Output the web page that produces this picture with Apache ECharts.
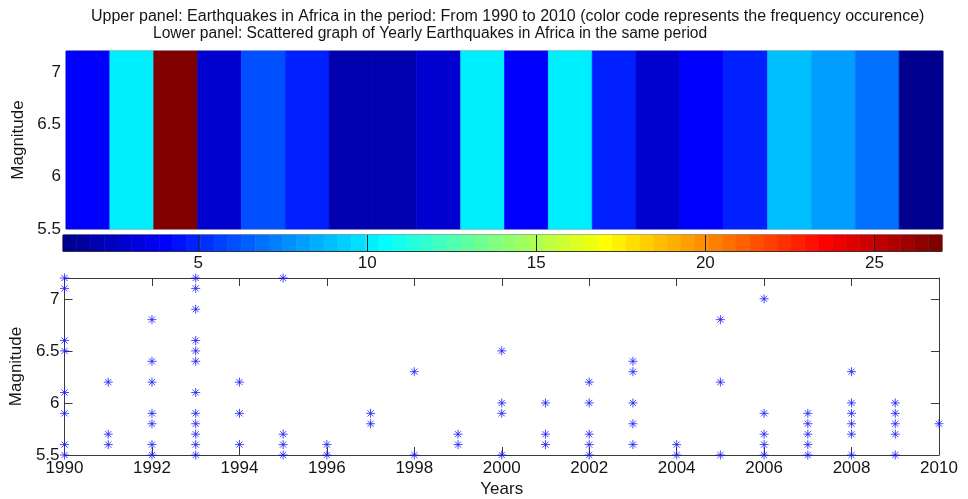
<!DOCTYPE html>
<html>
<head>
<meta charset="utf-8">
<script src="https://cdn.jsdelivr.net/npm/echarts@6/dist/echarts.min.js"></script>
<style>
  html, body { margin: 0; padding: 0; background: #fff; }
  #chart { width: 968px; height: 499px; }
</style>
</head>
<body>
<div id="chart"></div>
<script>
// Upper panel: one colour-coded cell per year (frequency of occurrence)
const heatYears = [1990, 1991, 1992, 1993, 1994, 1995, 1996, 1997, 1998, 1999,
                   2000, 2001, 2002, 2003, 2004, 2005, 2006, 2007, 2008, 2009];
const heatFrequency = [4, 10, 27, 3, 6, 5, 2, 2, 3, 10, 4, 10, 5, 3, 4, 5, 9, 8, 7, 1];

// Lower panel: magnitudes of the recorded earthquakes, grouped by year
const scatterYears = [1990, 1991, 1992, 1993, 1994, 1995, 1996, 1997, 1998, 1999,
                      2000, 2001, 2002, 2003, 2004, 2005, 2006, 2007, 2008, 2009, 2010];
const magnitudesByYear = [
  [7.2, 7.1, 6.6, 6.5, 6.1, 5.9, 5.6, 5.5],
  [6.2, 5.7, 5.6],
  [6.8, 6.4, 6.2, 5.9, 5.8, 5.6, 5.5],
  [7.2, 7.1, 6.9, 6.6, 6.5, 6.4, 6.1, 5.9, 5.8, 5.7, 5.6, 5.5],
  [6.2, 5.9, 5.6],
  [7.2, 5.7, 5.6, 5.5],
  [5.6, 5.5],
  [5.9, 5.8],
  [6.3, 5.5],
  [5.7, 5.6],
  [6.5, 6.0, 5.9, 5.5],
  [6.0, 5.7, 5.6],
  [6.2, 6.0, 5.7, 5.6, 5.5],
  [6.4, 6.3, 6.0, 5.8, 5.6],
  [5.6, 5.5],
  [6.8, 6.2, 5.5],
  [7.0, 5.9, 5.7, 5.6, 5.5],
  [5.9, 5.8, 5.7, 5.6, 5.5],
  [6.3, 6.0, 5.9, 5.8, 5.7, 5.5],
  [6.0, 5.9, 5.8, 5.7, 5.5],
  [5.8]
];

// Axis ticks
const magnitudeTicks = [5.5, 6, 6.5, 7];
const colorbarTicks = [5, 10, 15, 20, 25];

const MAG_MIN = 5.5, MAG_MAX = 7.2;
const FREQ_MIN = 1, FREQ_MAX = 27;
const LEVELS = 64;

// 64-level "jet" colormap
function jet(k) { // k = 1..64
  const r = k <= 24 ? 0 : k <= 40 ? (k - 24) / 16 : k <= 56 ? 1 : 1 - (k - 56) / 16;
  const g = k <= 8 ? 0 : k <= 24 ? (k - 8) / 16 : k <= 40 ? 1 : k <= 56 ? 1 - (k - 40) / 16 : 0;
  const b = k <= 8 ? (k + 8) / 16 : k <= 24 ? 1 : k <= 40 ? 1 - (k - 24) / 16 : 0;
  const c = v => Math.round(v * 255);
  return 'rgb(' + c(r) + ',' + c(g) + ',' + c(b) + ')';
}
const step = (FREQ_MAX - FREQ_MIN) / LEVELS;
const pieces = [];
for (let k = 1; k <= LEVELS; k++) {
  const p = { gte: FREQ_MIN + (k - 1) * step, color: jet(k) };
  if (k < LEVELS) p.lt = FREQ_MIN + k * step; else p.lte = FREQ_MAX;
  pieces.push(p);
}
// colour bar cells: [from, to, value at centre]
const colorbarCells = [];
for (let k = 0; k < LEVELS; k++) {
  colorbarCells.push([FREQ_MIN + k * step, FREQ_MIN + (k + 1) * step, FREQ_MIN + (k + 0.5) * step]);
}

const heatData = heatYears.map((y, i) => [y, y + 1, heatFrequency[i]]);
const scatterData = [];
scatterYears.forEach((y, i) => magnitudesByYear[i].forEach(m => scatterData.push([y, m])));

function cellRenderer(yLo, yHi) {
  return function (params, api) {
    const p0 = api.coord([api.value(0), yHi]);
    const p1 = api.coord([api.value(1), yLo]);
    const fill = api.visual('color');
    return {
      type: 'rect',
      shape: { x: p0[0], y: p0[1], width: p1[0] - p0[0], height: p1[1] - p0[1] },
      style: { fill: fill, stroke: fill, lineWidth: 0.6 }
    };
  };
}

const FONT = "'Liberation Sans', Arial, sans-serif";
const TEXT = '#151515';
const AXIS = '#3a3a3a';
const asterisk = 'path://M0,5L10,5M5,0L5,10M1.6,1.6L8.4,8.4M8.4,1.6L1.6,8.4';
const plain = v => String(v);

const chart = echarts.init(document.getElementById('chart'));
chart.setOption({
  animation: false,
  backgroundColor: '#fff',
  textStyle: { fontFamily: FONT },
  title: [
    { text: 'Upper panel: Earthquakes in Africa in the period: From 1990 to 2010 (color code represents the frequency occurence)',
      left: 91, top: 9, padding: 0,
      textStyle: { fontSize: 16, fontWeight: 'normal', color: TEXT, fontFamily: FONT } },
    { text: 'Lower panel: Scattered graph of Yearly Earthquakes in Africa in the same period',
      left: 153, top: 26, padding: 0,
      textStyle: { fontSize: 15.6, fontWeight: 'normal', color: TEXT, fontFamily: FONT } }
  ],
  visualMap: {
    type: 'piecewise', show: false, dimension: 2, seriesIndex: [0, 1], pieces: pieces
  },
  grid: [
    { left: 66, top: 51, width: 877, height: 178, show: true, borderColor: '#555', borderWidth: 0.8 },
    { left: 63, top: 235, width: 879, height: 16, show: true, borderColor: '#333', borderWidth: 1 },
    { left: 62, top: 278, width: 877, height: 177 }
  ],
  xAxis: [
    { gridIndex: 0, type: 'value', min: 1990, max: 2010,
      axisLine: { show: false }, axisTick: { show: false }, axisLabel: { show: false }, splitLine: { show: false } },
    { gridIndex: 1, type: 'value', min: FREQ_MIN, max: FREQ_MAX,
      axisLine: { show: true, lineStyle: { color: '#333', width: 1 } },
      axisTick: { show: true, customValues: colorbarTicks, inside: true, length: 16, lineStyle: { color: '#222', width: 1 } },
      axisLabel: { customValues: colorbarTicks, fontSize: 17, color: TEXT, margin: 4, fontFamily: FONT, formatter: plain },
      splitLine: { show: false }, z: 10 },
    { gridIndex: 2, type: 'value', min: 1990, max: 2010, interval: 2, position: 'bottom',
      name: 'Years', nameLocation: 'middle', nameGap: 26,
      nameTextStyle: { fontSize: 17, color: TEXT, fontFamily: FONT },
      axisLine: { lineStyle: { color: AXIS, width: 1 } },
      axisTick: { show: true, inside: true, length: 8, lineStyle: { color: AXIS } },
      axisLabel: { fontSize: 17, color: TEXT, margin: 5, fontFamily: FONT, formatter: plain },
      splitLine: { show: false } },
    { gridIndex: 2, type: 'value', min: 1990, max: 2010, interval: 2, position: 'top',
      axisLine: { lineStyle: { color: AXIS, width: 1 } },
      axisTick: { show: true, inside: true, length: 8, lineStyle: { color: AXIS } },
      axisLabel: { show: false }, splitLine: { show: false } }
  ],
  yAxis: [
    { gridIndex: 0, type: 'value', min: MAG_MIN, max: MAG_MAX,
      name: 'Magnitude', nameLocation: 'middle', nameRotate: 90, nameGap: 34,
      nameTextStyle: { fontSize: 17, color: TEXT, fontFamily: FONT },
      axisLine: { show: false }, axisTick: { show: false },
      axisLabel: { customValues: magnitudeTicks, fontSize: 17, color: TEXT, margin: 5, fontFamily: FONT, formatter: plain },
      splitLine: { show: false } },
    { gridIndex: 1, type: 'value', min: 0, max: 1, show: false },
    { gridIndex: 2, type: 'value', min: MAG_MIN, max: MAG_MAX, position: 'left',
      name: 'Magnitude', nameLocation: 'middle', nameRotate: 90, nameGap: 37,
      nameTextStyle: { fontSize: 17, color: TEXT, fontFamily: FONT },
      axisLine: { show: true, lineStyle: { color: AXIS, width: 1 } },
      axisTick: { show: true, customValues: magnitudeTicks, inside: true, length: 8, lineStyle: { color: AXIS } },
      axisLabel: { customValues: magnitudeTicks, fontSize: 17, color: TEXT, margin: 5, fontFamily: FONT, formatter: plain },
      splitLine: { show: false } },
    { gridIndex: 2, type: 'value', min: MAG_MIN, max: MAG_MAX, position: 'right',
      axisLine: { show: true, lineStyle: { color: AXIS, width: 1 } },
      axisTick: { show: true, customValues: magnitudeTicks, inside: true, length: 8, lineStyle: { color: AXIS } },
      axisLabel: { show: false }, splitLine: { show: false } }
  ],
  series: [
    { type: 'custom', xAxisIndex: 0, yAxisIndex: 0, data: heatData,
      encode: { x: [0, 1] }, renderItem: cellRenderer(MAG_MIN, MAG_MAX), silent: true, z: 1 },
    { type: 'custom', xAxisIndex: 1, yAxisIndex: 1, data: colorbarCells,
      encode: { x: [0, 1] }, renderItem: cellRenderer(0, 1), silent: true, z: 1 },
    { type: 'scatter', xAxisIndex: 2, yAxisIndex: 2, data: scatterData, clip: false,
      symbol: asterisk, symbolSize: 9,
      itemStyle: { color: 'rgba(0,0,0,0)', borderColor: '#1a1aff', borderWidth: 1 },
      z: 5 }
  ]
});
</script>
</body>
</html>
